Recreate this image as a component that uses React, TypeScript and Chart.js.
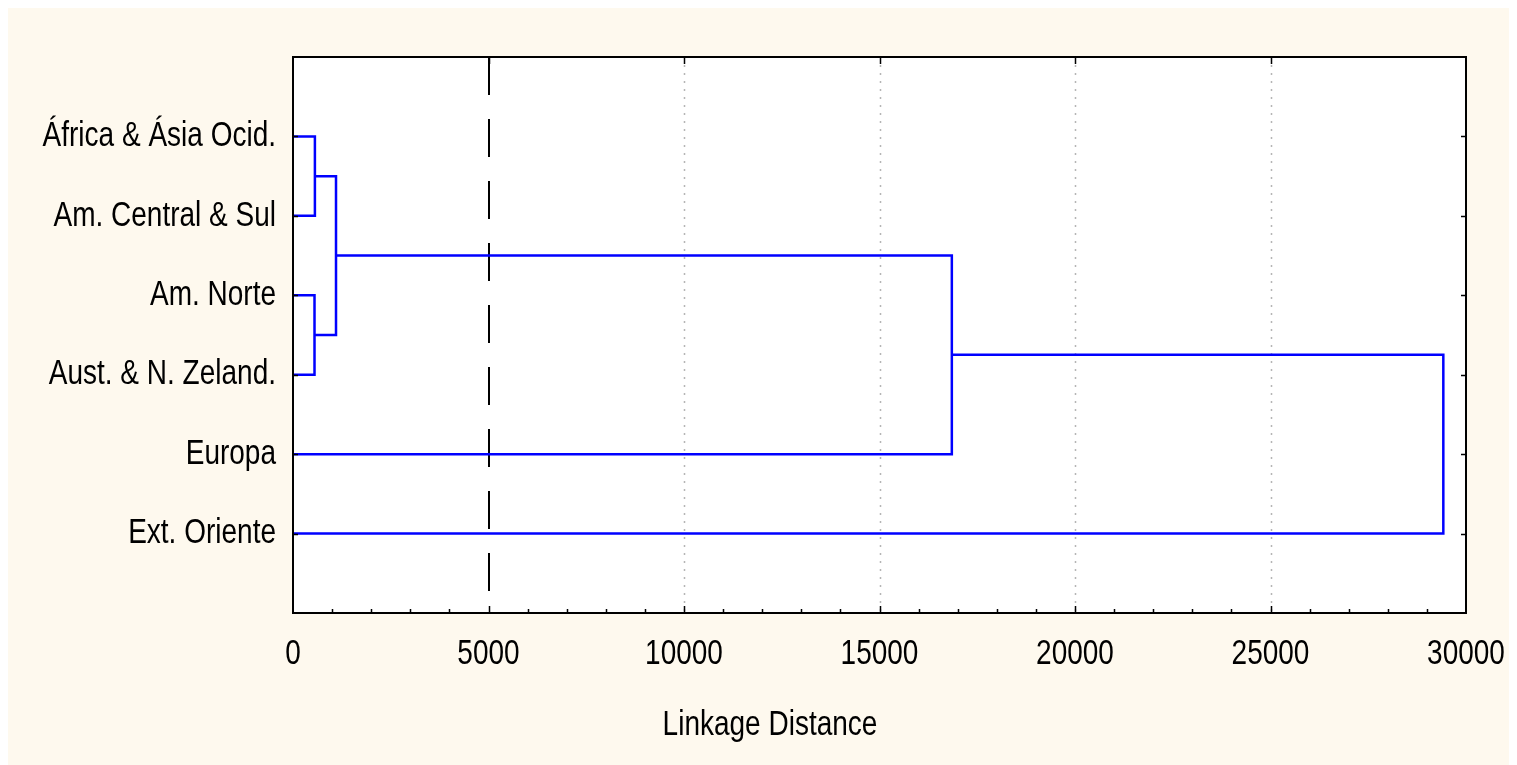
import React, { useEffect, useRef } from "react";
import { Chart, registerables } from "chart.js";

Chart.register(...registerables);

// ---- data ----
const leafLabels = [
  "África & Ásia Ocid.",
  "Am. Central & Sul",
  "Am. Norte",
  "Aust. & N. Zeland.",
  "Europa",
  "Ext. Oriente",
];
// merges: node ids 0..5 are leaves, 6.. are merges in order
const mergeLeft = [0, 2, 6, 8, 9];
const mergeRight = [1, 3, 7, 4, 5];
const mergeDistance = [560, 550, 1100, 16850, 29420];
const cutoffDistance = 5000;
const xMin = 0;
const xMax = 30000;
const xStep = 5000;
const xMinorStep = 1000;
const axisTitle = "Linkage Distance";

const FONT_FAMILY = '"Liberation Sans", Arial, sans-serif';
const FONT_SIZE = 35;
const NARROW = 0.8; // horizontal condensing (Arial Narrow look)
const BLUE = "#0000FF";
const CREAM = "#FEF9EE";

function buildSegments() {
  const nx: number[] = leafLabels.map(() => 0);
  const ny: number[] = leafLabels.map((_, i) => i + 1);
  const segs: { x: number; y: number }[][] = [];
  mergeDistance.forEach((d, k) => {
    const a = mergeLeft[k];
    const b = mergeRight[k];
    segs.push([
      { x: nx[a], y: ny[a] },
      { x: d, y: ny[a] },
      { x: d, y: ny[b] },
      { x: nx[b], y: ny[b] },
    ]);
    nx.push(d);
    ny.push((ny[a] + ny[b]) / 2);
  });
  return segs;
}

function narrowText(ctx: CanvasRenderingContext2D, text: string, x: number, y: number) {
  const w = ctx.measureText(text).width;
  ctx.fillText(text, x, y, w * NARROW);
}

const decorPlugin = {
  id: "decor",
  beforeDraw(chart: any) {
    const { ctx, chartArea: a, width, height } = chart;
    ctx.save();
    ctx.fillStyle = CREAM;
    ctx.fillRect(0, 0, width, height);
    ctx.fillStyle = "#FFFFFF";
    ctx.fillRect(a.left, a.top, a.right - a.left, a.bottom - a.top);
    ctx.restore();
  },
  beforeDatasetsDraw(chart: any) {
    const { ctx, chartArea: a } = chart;
    const xs = chart.scales.x;
    ctx.save();
    // dotted grid
    ctx.strokeStyle = "#B5B5B5";
    ctx.lineWidth = 1.5;
    ctx.setLineDash([2, 6]);
    xs.ticks.forEach((t: any) => {
      const v = t.value;
      if (v <= xMin || v >= xMax || v === cutoffDistance) return;
      const px = Math.round(xs.getPixelForValue(v)) + 0.5;
      ctx.beginPath();
      ctx.moveTo(px, a.top + 8);
      ctx.lineTo(px, a.bottom);
      ctx.stroke();
    });
    // cutoff dashed line
    ctx.strokeStyle = "#000000";
    ctx.lineWidth = 2;
    ctx.setLineDash([38, 24]);
    const cx = Math.round(xs.getPixelForValue(cutoffDistance));
    ctx.beginPath();
    ctx.moveTo(cx, a.top);
    ctx.lineTo(cx, a.bottom);
    ctx.stroke();
    ctx.restore();
  },
  afterDraw(chart: any) {
    const { ctx, chartArea: a } = chart;
    const xs = chart.scales.x;
    const ys = chart.scales.y;
    ctx.save();
    ctx.strokeStyle = "#000000";
    ctx.lineWidth = 2;
    ctx.setLineDash([]);
    ctx.strokeRect(a.left, a.top, a.right - a.left, a.bottom - a.top);
    ctx.lineWidth = 1.5;
    ctx.beginPath();
    // bottom minor ticks
    for (let v = xMin + xMinorStep; v < xMax; v += xMinorStep) {
      const px = Math.round(xs.getPixelForValue(v)) + 0.5;
      const len = v % xStep === 0 ? 7 : 4;
      ctx.moveTo(px, a.bottom);
      ctx.lineTo(px, a.bottom - len);
    }
    // top major ticks
    xs.ticks.forEach((t: any) => {
      if (t.value <= xMin || t.value >= xMax) return;
      const px = Math.round(xs.getPixelForValue(t.value)) + 0.5;
      ctx.moveTo(px, a.top);
      ctx.lineTo(px, a.top + 7);
    });
    // left & right leaf ticks
    ys.ticks.forEach((t: any) => {
      if (!t.label) return;
      const py = Math.round(ys.getPixelForValue(t.value)) + 0.5;
      ctx.moveTo(a.left, py);
      ctx.lineTo(a.left + 5, py);
      ctx.moveTo(a.right, py);
      ctx.lineTo(a.right - 5, py);
    });
    ctx.stroke();

    // tick labels
    ctx.fillStyle = "#000000";
    ctx.font = `${FONT_SIZE}px ${FONT_FAMILY}`;
    ctx.textBaseline = "middle";
    ctx.textAlign = "right";
    ys.ticks.forEach((t: any) => {
      if (!t.label) return;
      narrowText(ctx, String(t.label), a.left - 17, ys.getPixelForValue(t.value));
    });
    ctx.textAlign = "center";
    xs.ticks.forEach((t: any) => {
      narrowText(ctx, String(t.label), xs.getPixelForValue(t.value), a.bottom + 41);
    });
    // axis title
    narrowText(ctx, axisTitle, 762, 717);
    ctx.restore();
  },
};

export default function App() {
  const ref = useRef<HTMLCanvasElement | null>(null);
  useEffect(() => {
    if (!ref.current) return;
    const segs = buildSegments();
    const chart = new Chart(ref.current, {
      type: "scatter",
      data: {
        datasets: segs.map((s, i) => ({
          label: "m" + i,
          data: s,
          showLine: true,
          borderColor: BLUE,
          backgroundColor: BLUE,
          borderWidth: 2.5,
          pointRadius: 0,
          pointHoverRadius: 0,
          tension: 0,
        })),
      },
      options: {
        animation: false,
        responsive: false,
        devicePixelRatio: 1,
        layout: { padding: { left: 0, top: 49, right: 51, bottom: 0 } },
        plugins: { legend: { display: false }, tooltip: { enabled: false } },
        events: [],
        scales: {
          x: {
            type: "linear",
            min: xMin,
            max: xMax,
            grid: { display: false, drawTicks: false },
            border: { display: false },
            ticks: {
              display: false,
              stepSize: xStep,
              autoSkip: false,
              maxRotation: 0,
              callback: (v: any) => String(v),
            },
            afterFit: (s: any) => {
              s.height = 152;
              s.paddingLeft = 0;
              s.paddingRight = 0;
            },
          },
          y: {
            type: "linear",
            min: 0,
            max: 7,
            reverse: true,
            grid: { display: false, drawTicks: false },
            border: { display: false },
            ticks: {
              display: false,
              stepSize: 1,
              autoSkip: false,
              callback: (v: any) => {
                const i = Number(v) - 1;
                return i >= 0 && i < leafLabels.length ? leafLabels[i] : "";
              },
            },
            afterFit: (s: any) => {
              s.width = 285;
              s.paddingTop = 0;
              s.paddingBottom = 0;
            },
          },
        },
      },
      plugins: [decorPlugin],
    });
    return () => chart.destroy();
  }, []);
  return (
    <canvas
      ref={ref}
      width={1509}
      height={757}
      style={{ display: "block", width: 1509, height: 757 }}
    />
  );
}
